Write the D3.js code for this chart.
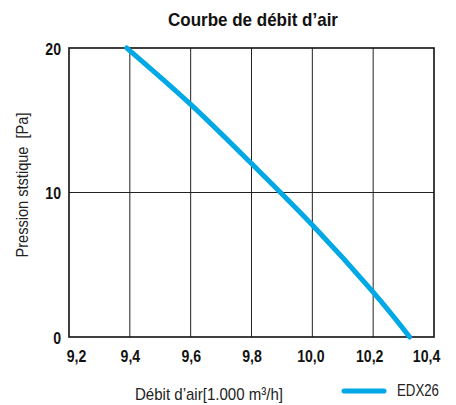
<!DOCTYPE html>
<html>
<head>
<meta charset="utf-8">
<script src="https://cdn.jsdelivr.net/npm/d3@7"></script>
<style>
  body { margin: 0; background: #fff; }
  text { font-family: "Liberation Sans", Arial, sans-serif; }
</style>
</head>
<body>
<svg id="chart" width="456" height="405"></svg>
<script>
// airflow readings (1.000 m3/h) and static pressure (Pa)
const debit    = [9.39, 9.6, 9.8, 10.0, 10.2, 10.32];
const pression = [20, 16.1, 12.0, 7.75, 3.1, 0];
const xTicks = [9.2, 9.4, 9.6, 9.8, 10.0, 10.2, 10.4];
const yTicks = [0, 10, 20];
const seriesName = 'EDX26';

const svg = d3.select('#chart');
const margin = {top: 48, right: 22, bottom: 68, left: 69};
const w = 456 - margin.left - margin.right,
      h = 405 - margin.top - margin.bottom;
const blue = '#00a8e6';

// squeeze Liberation Sans to look like the condensed face of the original
const condense = (sel, k) => sel.each((d, i, t) => {
  const len = t[i].getComputedTextLength();
  d3.select(t[i]).attr('textLength', len * k).attr('lengthAdjust', 'spacingAndGlyphs');
});
const fitTo = (sel, px) => sel.attr('textLength', px).attr('lengthAdjust', 'spacingAndGlyphs');

const x = d3.scaleLinear().domain([9.2, 10.4]).range([0, w]);
const y = d3.scaleLinear().domain([0, 20]).range([h, 0]);

const g = svg.append('g').attr('transform', `translate(${margin.left},${margin.top})`);

// grid
g.append('g')
  .selectAll('line')
  .data(xTicks.slice(1, -1))
  .join('line')
  .attr('x1', d => x(d)).attr('x2', d => x(d))
  .attr('y1', 0).attr('y2', h)
  .attr('stroke', '#222').attr('stroke-width', 1);
g.append('g')
  .selectAll('line')
  .data(yTicks.slice(1, -1))
  .join('line')
  .attr('x1', 0).attr('x2', w)
  .attr('y1', d => y(d)).attr('y2', d => y(d))
  .attr('stroke', '#222').attr('stroke-width', 1);

// frame
g.append('rect')
  .attr('width', w).attr('height', h)
  .attr('fill', 'none').attr('stroke', '#111').attr('stroke-width', 1.6);

// axes
const fmt = d => d3.format('.1f')(d).replace('.', ',');
const xAxis = g.append('g')
  .attr('transform', `translate(0,${h})`)
  .call(d3.axisBottom(x).tickValues(xTicks).tickFormat(fmt).tickSize(0));
xAxis.selectAll('text')
  .attr('y', 25).attr('dy', 0)
  .attr('dx', (d, i) => i === 0 ? 7 : i === xTicks.length - 1 ? -8 : (d > 10 ? -4 : d === 10 ? -2 : 0));

const yAxis = g.append('g')
  .call(d3.axisLeft(y).tickValues(yTicks).tickFormat(d3.format('d')).tickSize(0).tickPadding(8));
yAxis.selectAll('text').attr('dy', '0.38em');

[xAxis, yAxis].forEach(a => {
  a.select('.domain').remove();
  a.selectAll('text')
    .attr('fill', '#111')
    .style('font-size', '16px')
    .style('font-weight', 'bold')
    .style('font-family', '"Liberation Sans", Arial, sans-serif')
    .call(condense, 0.88);
});

// curve
const pts = debit.map((d, i) => [d, pression[i]]);
g.append('path')
  .datum(pts)
  .attr('fill', 'none')
  .attr('stroke', blue)
  .attr('stroke-width', 5)
  .attr('stroke-linecap', 'round')
  .attr('d', d3.line().x(d => x(d[0])).y(d => y(d[1])).curve(d3.curveNatural));

// title
svg.append('text')
  .attr('x', 253).attr('y', 26)
  .attr('text-anchor', 'middle')
  .style('font-size', '19px').style('font-weight', 'bold')
  .attr('fill', '#111')
  .text('Courbe de débit d’air')
  .call(fitTo, 170);

// axis titles
svg.append('text')
  .attr('transform', 'translate(28,185) rotate(-90)')
  .attr('text-anchor', 'middle')
  .style('font-size', '16px')
  .style('white-space', 'pre')
  .attr('fill', '#222')
  .text('Pression ststique  [Pa]')
  .call(fitTo, 145);

svg.append('text')
  .attr('x', 209).attr('y', 400)
  .attr('text-anchor', 'middle')
  .style('font-size', '17px')
  .attr('fill', '#222')
  .text('Débit d’air[1.000 m³/h]')
  .call(fitTo, 148);

// legend
const lg = svg.append('g');
lg.append('line')
  .attr('x1', 344).attr('x2', 384).attr('y1', 391).attr('y2', 391)
  .attr('stroke', blue).attr('stroke-width', 5).attr('stroke-linecap', 'round');
lg.append('text')
  .attr('x', 397).attr('y', 396)
  .style('font-size', '16px')
  .attr('fill', '#222')
  .text(seriesName)
  .call(fitTo, 42);
</script>
</body>
</html>
